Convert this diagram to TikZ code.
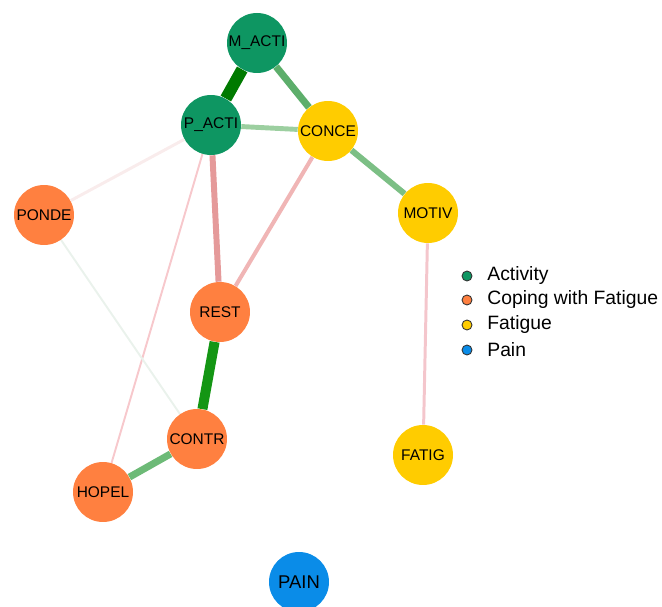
\documentclass[tikz,border=0pt]{standalone}
\usepackage{fontspec}
\setmainfont{Liberation Sans}
\usetikzlibrary{backgrounds}

\definecolor{actcol}{RGB}{14,150,98}
\definecolor{copcol}{RGB}{255,128,64}
\definecolor{fatcol}{RGB}{255,204,0}
\definecolor{paincol}{RGB}{10,140,232}

\begin{document}
\begin{tikzpicture}[x=0.02cm,y=-0.02cm,
		varnode/.style={circle,minimum size=1.2cm,inner sep=0pt,font=\fontsize{8.8}{10}\selectfont},
		legdot/.style={circle,draw=black!80,line width=0.5pt,minimum size=0.2cm,inner sep=0pt},
		legtext/.style={anchor=west,font=\fontsize{11}{13}\selectfont,inner sep=0pt}]
		\useasboundingbox (0,0) rectangle (662,607);

		\node[varnode,fill=actcol] at (257,43) (macti) {M\_ACTI};
		\node[varnode,fill=actcol] at (211,125) (pacti) {P\_ACTI};
		\node[varnode,fill=fatcol] at (328,131) (conce) {CONCE};
		\node[varnode,fill=fatcol] at (428,213) (motiv) {MOTIV};
		\node[varnode,fill=copcol] at (44,215) (ponde) {PONDE};
		\node[varnode,fill=copcol] at (220,312) (rest) {REST};
		\node[varnode,fill=copcol] at (197,439) (contr) {CONTR};
		\node[varnode,fill=copcol] at (103,492) (hopel) {HOPEL};
		\node[varnode,fill=fatcol] at (423,455) (fatig) {FATIG};
		\node[varnode,fill=paincol,font=\fontsize{10.5}{12}\selectfont] at (299,582) (pain) {PAIN};

		\node[legdot,fill=actcol] at (467,276) (la) {};
		\node[legdot,fill=copcol] at (467,300) (lc) {};
		\node[legdot,fill=fatcol] at (467,325) (lf) {};
		\node[legdot,fill=paincol] at (467,350) (lp) {};
		\node[legtext] at (487,276) (ta) {Activity};
		\node[legtext] at (487,300) (tc) {Coping with Fatigue};
		\node[legtext] at (487,325) (tf) {Fatigue};
		\node[legtext] at (487,350) (tp) {Pain};

		\begin{scope}[on background layer]
			\draw[color={rgb,255:red,0;green,122;blue,0},line width=6.8pt] (macti) -- (pacti);
			\draw[color={rgb,255:red,93;green,174;blue,107},line width=4pt] (macti) -- (conce);
			\draw[color={rgb,255:red,156;green,207;blue,160},line width=2.8pt] (pacti) -- (conce);
			\draw[color={rgb,255:red,124;green,191;blue,133},line width=3.4pt] (conce) -- (motiv);
			\draw[color={rgb,255:red,229;green,154;blue,154},line width=3.4pt] (pacti) -- (rest);
			\draw[color={rgb,255:red,240;green,181;blue,181},line width=2.3pt] (conce) -- (rest);
			\draw[color={rgb,255:red,249;green,236;blue,236},line width=1.7pt] (pacti) -- (ponde);
			\draw[color={rgb,255:red,247;green,200;blue,204},line width=1.1pt] (pacti) -- (hopel);
			\draw[color={rgb,255:red,234;green,242;blue,236},line width=1.1pt] (ponde) -- (contr);
			\draw[color={rgb,255:red,20;green,150;blue,20},line width=5.7pt] (rest) -- (contr);
			\draw[color={rgb,255:red,109;green,186;blue,119},line width=4pt] (contr) -- (hopel);
			\draw[color={rgb,255:red,244;green,198;blue,204},line width=1.7pt] (motiv) -- (fatig);
		\end{scope}
	\end{tikzpicture}
\end{document}
